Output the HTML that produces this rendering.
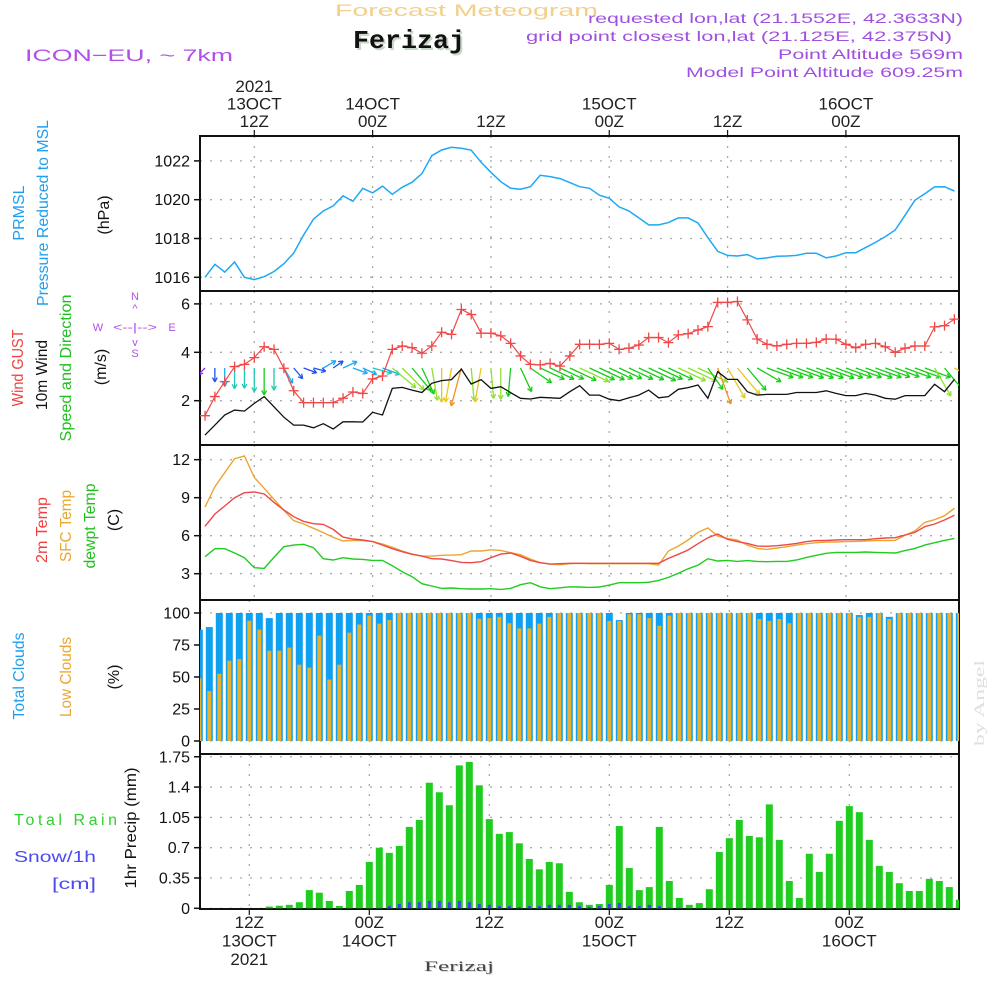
<!DOCTYPE html>
<html><head><meta charset="utf-8"><style>
html,body{margin:0;padding:0;background:#fff;}
svg{display:block;font-family:"Liberation Sans",sans-serif;}
</style></head>
<body>
<svg id="chart" width="1000" height="1000" viewBox="0 0 1000 1000" xmlns="http://www.w3.org/2000/svg">
<defs>
<clipPath id="cTop"><rect x="200" y="136" width="759" height="155"/></clipPath>
<clipPath id="cWind"><rect x="200" y="291" width="759" height="154"/></clipPath>
<clipPath id="cTemp"><rect x="200" y="445" width="759" height="155"/></clipPath>
<clipPath id="cCloud"><rect x="200" y="600" width="759" height="142"/></clipPath>
<clipPath id="cPrec"><rect x="200" y="754" width="759" height="155"/></clipPath>
</defs>
<text x="335" y="16" font-size="17" fill="#f2d08a" textLength="263" lengthAdjust="spacingAndGlyphs">Forecast Meteogram</text>
<text x="355" y="50" font-family="Liberation Mono,monospace" font-weight="bold" font-size="26" fill="#c8d8c8" textLength="112" lengthAdjust="spacingAndGlyphs">Ferizaj</text>
<text x="353" y="48" font-family="Liberation Mono,monospace" font-weight="bold" font-size="26" fill="#111" textLength="112" lengthAdjust="spacingAndGlyphs">Ferizaj</text>
<text x="25" y="61" font-size="17" fill="#b050e8" textLength="208" lengthAdjust="spacingAndGlyphs">ICON−EU, ~ 7km</text>
<g font-size="14" fill="#a050e0" text-anchor="end">
<text x="963" y="23" textLength="375" lengthAdjust="spacingAndGlyphs">requested lon,lat (21.1552E, 42.3633N)</text>
<text x="952" y="41" textLength="426" lengthAdjust="spacingAndGlyphs">grid point closest lon,lat (21.125E, 42.375N)</text>
<text x="963" y="59" textLength="185" lengthAdjust="spacingAndGlyphs">Point Altitude 569m</text>
<text x="963" y="77" textLength="277" lengthAdjust="spacingAndGlyphs">Model Point Altitude 609.25m</text>
</g>
<g id="axes"></g>
<g id="marks"></g>
<g font-size="16">
<text transform="translate(24,213) rotate(-90)" text-anchor="middle" fill="#1ea0f0">PRMSL</text>
<text transform="translate(48,213) rotate(-90)" text-anchor="middle" fill="#1ea0f0" textLength="186" lengthAdjust="spacingAndGlyphs">Pressure Reduced to MSL</text>
<text transform="translate(109,215) rotate(-90)" text-anchor="middle" fill="#111">(hPa)</text>
<text transform="translate(23,368) rotate(-90)" text-anchor="middle" fill="#f04040" textLength="77" lengthAdjust="spacingAndGlyphs">Wind GUST</text>
<text transform="translate(47,375) rotate(-90)" text-anchor="middle" fill="#111" textLength="70" lengthAdjust="spacingAndGlyphs">10m Wind</text>
<text transform="translate(71,368) rotate(-90)" text-anchor="middle" fill="#20c020" textLength="147" lengthAdjust="spacingAndGlyphs">Speed and Direction</text>
<text transform="translate(106,367) rotate(-90)" text-anchor="middle" fill="#111">(m/s)</text>
<text transform="translate(47,530) rotate(-90)" text-anchor="middle" fill="#f04040" textLength="66" lengthAdjust="spacingAndGlyphs">2m Temp</text>
<text transform="translate(71,526) rotate(-90)" text-anchor="middle" fill="#e8a830" textLength="72" lengthAdjust="spacingAndGlyphs">SFC Temp</text>
<text transform="translate(95,526) rotate(-90)" text-anchor="middle" fill="#20c020" textLength="85" lengthAdjust="spacingAndGlyphs">dewpt Temp</text>
<text transform="translate(119,520) rotate(-90)" text-anchor="middle" fill="#111">(C)</text>
<text transform="translate(24,676) rotate(-90)" text-anchor="middle" fill="#1ea0f0" textLength="87" lengthAdjust="spacingAndGlyphs">Total Clouds</text>
<text transform="translate(71,677) rotate(-90)" text-anchor="middle" fill="#e8a830" textLength="80" lengthAdjust="spacingAndGlyphs">Low Clouds</text>
<text transform="translate(119,677) rotate(-90)" text-anchor="middle" fill="#111">(%)</text>
<text transform="translate(136,828) rotate(-90)" text-anchor="middle" fill="#111" textLength="121" lengthAdjust="spacingAndGlyphs">1hr Precip (mm)</text>
<text x="14" y="825" fill="#30d030" textLength="103" lengthAdjust="spacing">Total   Rain</text>
<text x="14" y="862" fill="#4a4af0" textLength="82" lengthAdjust="spacingAndGlyphs">Snow/1h</text>
<text x="52" y="889" fill="#4a4af0" textLength="44" lengthAdjust="spacingAndGlyphs">[cm]</text>
</g>
<g font-size="11" fill="#b050e8">
<text x="135" y="300" text-anchor="middle">N</text>
<text x="135" y="357" text-anchor="middle">S</text>
<text x="98" y="331" text-anchor="middle">W</text>
<text x="172" y="331" text-anchor="middle">E</text>
<text x="135" y="331" text-anchor="middle" textLength="44" lengthAdjust="spacingAndGlyphs">&lt;--|--&gt;</text>
<text x="135" y="312" text-anchor="middle">^</text>
<text x="135" y="346" text-anchor="middle">v</text>
</g>
<text x="425" y="972" font-family="Liberation Serif,serif" font-size="15" fill="#d0d8d0" textLength="70" lengthAdjust="spacingAndGlyphs">Ferizaj</text>
<text x="424" y="971" font-family="Liberation Serif,serif" font-size="15" fill="#444" textLength="70" lengthAdjust="spacingAndGlyphs">Ferizaj</text>
<text transform="translate(984,703) rotate(-90)" text-anchor="middle" font-family="Liberation Serif,serif" font-size="15" fill="#dde0dd" textLength="86" lengthAdjust="spacingAndGlyphs">by Angel</text>
</svg>
<script>
var hourStart = 7, hourEnd = 83;
var pressure = [1016.0,1016.67,1016.27,1016.79,1016.0,1015.88,1016.03,1016.3,1016.7,1017.25,1018.18,1019.0,1019.42,1019.68,1020.2,1019.92,1020.59,1020.35,1020.7,1020.28,1020.64,1020.9,1021.34,1022.27,1022.56,1022.7,1022.65,1022.55,1021.93,1021.41,1020.93,1020.59,1020.54,1020.67,1021.26,1021.19,1021.09,1020.88,1020.67,1020.59,1020.23,1020.07,1019.63,1019.42,1019.06,1018.7,1018.7,1018.82,1019.06,1019.06,1018.8,1018.04,1017.34,1017.13,1017.1,1017.17,1016.95,1017.0,1017.08,1017.1,1017.13,1017.24,1017.24,1017.0,1017.1,1017.27,1017.27,1017.53,1017.8,1018.1,1018.44,1019.2,1019.97,1020.31,1020.66,1020.67,1020.45];
var gust = [1.38,2.17,2.79,3.41,3.5,3.78,4.23,4.12,3.34,2.41,1.92,1.92,1.92,1.92,2.1,2.36,2.3,2.9,3.02,4.12,4.26,4.19,3.96,4.26,4.83,4.74,5.77,5.56,4.79,4.79,4.68,4.37,3.85,3.5,3.48,3.54,3.43,3.85,4.33,4.33,4.33,4.37,4.12,4.17,4.3,4.61,4.61,4.4,4.72,4.77,4.92,5.06,6.06,6.06,6.1,5.34,4.55,4.33,4.26,4.33,4.37,4.37,4.41,4.55,4.54,4.33,4.19,4.33,4.37,4.23,4.0,4.17,4.26,4.26,5.05,5.1,5.37];
var wind10 = [0.58,0.99,1.41,1.61,1.57,1.89,2.17,1.75,1.32,0.99,0.99,0.88,1.05,0.83,1.13,1.13,1.12,1.52,1.41,2.51,2.55,2.44,2.34,2.72,2.83,2.87,3.3,2.69,2.87,2.51,2.58,2.33,2.1,2.07,2.14,2.12,2.1,2.37,2.62,2.23,2.23,2.06,2.0,2.12,2.23,2.44,2.12,2.17,2.47,2.54,2.65,2.1,3.2,2.88,2.88,2.37,2.23,2.26,2.26,2.26,2.34,2.34,2.34,2.41,2.3,2.21,2.21,2.3,2.23,2.1,2.06,2.21,2.21,2.21,2.68,2.37,2.88];
var windDir = [135,90,90,90,90,90,90,90,60,50,20,15,-30,-35,-25,20,25,15,20,40,45,50,65,80,90,100,105,85,100,85,90,95,65,35,25,25,25,25,25,25,25,25,25,25,25,25,25,25,25,25,25,55,70,60,50,50,30,20,20,20,20,20,20,20,20,20,20,20,20,20,20,20,20,20,60,50,30];
var temp2m = [6.74,7.71,8.34,9.0,9.39,9.45,9.29,8.63,8.03,7.5,7.13,6.95,6.89,6.5,5.89,5.74,5.66,5.53,5.26,4.97,4.74,4.53,4.39,4.18,4.16,4.03,3.89,3.87,3.95,4.26,4.55,4.63,4.37,4.05,3.87,3.76,3.79,3.82,3.82,3.82,3.82,3.82,3.82,3.82,3.82,3.82,3.82,4.21,4.53,4.87,5.37,5.84,6.13,5.71,5.53,5.39,5.18,5.16,5.21,5.29,5.39,5.53,5.61,5.63,5.66,5.68,5.68,5.68,5.76,5.82,5.84,6.05,6.26,6.71,6.92,7.24,7.61];
var sfcTemp = [8.26,9.87,10.97,12.08,12.29,10.6,9.74,8.87,8.0,7.18,6.92,6.58,6.24,5.87,5.58,5.63,5.61,5.53,5.34,5.08,4.79,4.55,4.39,4.39,4.45,4.47,4.5,4.79,4.79,4.89,4.84,4.66,4.5,4.16,3.87,3.76,3.71,3.79,3.82,3.79,3.79,3.79,3.79,3.79,3.79,3.79,3.68,4.79,5.18,5.66,6.26,6.61,5.97,5.79,5.66,5.26,5.0,4.92,5.03,5.13,5.26,5.37,5.45,5.5,5.5,5.53,5.55,5.58,5.61,5.61,5.63,6.05,6.37,7.05,7.26,7.58,8.16];
var dewpt = [4.34,4.97,4.97,4.63,4.26,3.47,3.42,4.29,5.13,5.26,5.32,5.05,4.18,4.08,4.26,4.16,4.13,4.05,4.05,3.63,3.16,2.76,2.21,2.03,1.84,1.87,1.82,1.79,1.79,1.82,1.76,1.84,2.13,2.29,1.97,1.82,1.89,1.97,1.95,1.92,1.95,2.1,2.29,2.29,2.29,2.32,2.47,2.71,3.03,3.39,3.68,4.18,4.0,4.05,3.97,4.03,3.97,3.95,3.97,3.97,4.08,4.29,4.45,4.61,4.68,4.68,4.68,4.71,4.68,4.66,4.63,4.82,5.0,5.26,5.45,5.63,5.79];
var totalClouds = [87,89,100,100,100,100,100,96,100,100,100,100,100,100,100,100,100,100,100,100,100,100,100,100,100,100,100,100,100,100,100,100,100,100,100,100,100,100,100,100,100,100,94.5,100,100,100,100,100,100,100,100,100,100,100,100,100,100,100,100,100,100,100,100,100,100,100,98.4,100,100,97,100,100,100,100,100,100,100];
var lowClouds = [49,39,52.5,62.7,64,94,87,70.5,70.5,73,59.6,57.3,82.3,48,59.6,84.6,91,98,91.7,94.5,100,100,100,100,100,100,100,100,95.5,96,97,92,88,88,91.7,97,100,100,100,100,100,93.8,93.8,99,99,96,90,98,100,100,100,100,100,100,100,100,95.3,93.8,95.3,92,100,100,100,100,100,100,97,97,100,95.3,100,100,100,100,100,100,100];
var precip = [0,0,0,0,0,0,0,0.02,0.03,0.04,0.07,0.21,0.18,0.085,0.027,0.2,0.27,0.535,0.70,0.64,0.72,0.94,1.02,1.45,1.34,1.19,1.65,1.69,1.42,1.03,0.86,0.88,0.75,0.57,0.45,0.535,0.52,0.19,0.07,0.04,0.05,0.27,0.95,0.465,0.21,0.245,0.94,0.315,0.12,0.04,0.06,0.22,0.65,0.81,1.02,0.835,0.82,1.2,0.79,0.315,0.12,0.63,0.42,0.63,1.01,1.18,1.11,0.79,0.49,0.42,0.29,0.2,0.2,0.34,0.315,0.245,0.1];
var snow = [0,0,0,0,0,0,0,0,0,0,0,0,0,0,0,0,0,0,0.005,0.027,0.05,0.07,0.07,0.085,0.085,0.07,0.085,0.07,0.05,0.04,0.027,0.027,0.015,0.027,0.027,0.04,0.04,0.04,0.027,0.015,0.027,0.05,0.06,0.027,0.027,0.04,0.027,0.008,0.008,0,0,0,0,0,0,0,0,0,0,0,0,0,0,0,0,0,0,0,0,0,0,0,0,0,0,0,0];
var pressTicks = [1016,1018,1020,1022];
var windTicks = [2,4,6];
var tempTicks = [3,6,9,12];
var cloudTicks = [0,25,50,75,100];
var precipTicks = [0,0.35,0.7,1.05,1.4,1.75];
var precipTickLabels = ["0","0.35","0.7","1.05","1.4","1.75"];
var timeHours = [12,24,36,48,60,72];
var topTimeLabels = [["2021","13OCT","12Z"],["14OCT","00Z"],["12Z"],["15OCT","00Z"],["12Z"],["16OCT","00Z"]];
var bottomTimeLabels = [["12Z","13OCT","2021"],["00Z","14OCT"],["12Z"],["00Z","15OCT"],["12Z"],["00Z","16OCT"]];

function xT(h){return 254.3+9.86*(h-12);}
function xB(h){return 249.3+10*(h-12);}
function yP(v){return 277.3-(v-1016)*19.4;}
function yW(v){return 400.7-(v-2)*24.2;}
function yT(v){return 573.7-(v-3)*12.67;}
function yC(v){return 741-v*1.28;}
function yR(v){return 908.3-v*86.6;}

var NS="http://www.w3.org/2000/svg";
var axes=document.getElementById('axes'), marks=document.getElementById('marks');
function el(tag,attrs,parent){var e=document.createElementNS(NS,tag);for(var k in attrs)e.setAttribute(k,attrs[k]);(parent||marks).appendChild(e);return e;}

var panels=[
 {name:'pressure',y0:136,y1:291,ticks:pressTicks,labels:null,ys:yP,xs:xT},
 {name:'wind',y0:291,y1:445,ticks:windTicks,labels:null,ys:yW,xs:xT},
 {name:'temperature',y0:445,y1:600,ticks:tempTicks,labels:null,ys:yT,xs:xT},
 {name:'clouds',y0:600,y1:742,ticks:cloudTicks,labels:null,ys:yC,xs:xB},
 {name:'precip',y0:754,y1:909,ticks:precipTicks,labels:precipTickLabels,ys:yR,xs:xB}
];
panels.forEach(function(p){
  var g=el('g',{},axes);
  
  
  p.ticks.forEach(function(t,i){
    var y=p.ys(t);
    var gl=el('line',{x1:200,x2:959,y1:y,y2:y,stroke:'#aaa','stroke-width':1.3,'stroke-dasharray':'2,8'},g);
    
    
    el('line',{x1:194,x2:200,y1:y,y2:y,stroke:'#111','stroke-width':1.5},g);
    var tx=el('text',{x:190,y:y+5.5,'text-anchor':'end','font-size':16,fill:'#111'},g);
    
    
    tx.textContent=p.labels?p.labels[i]:String(t);
  });
  timeHours.forEach(function(h){
    var x=p.xs(h);
    var vl=el('line',{x1:x,x2:x,y1:p.y0,y2:p.y1,stroke:'#aaa','stroke-width':1.3,'stroke-dasharray':'2,8'},g);
    
    
  });
});
[[136,291],[291,445],[445,600],[754,909]].forEach(function(r){
  var f=el('rect',{x:200,y:r[0],width:759,height:r[1]-r[0],fill:'none',stroke:'#111','stroke-width':2},axes);
  
  
});
el('line',{x1:200,x2:200,y1:600,y2:754,stroke:'#111','stroke-width':2},axes);
el('line',{x1:959,x2:959,y1:600,y2:754,stroke:'#111','stroke-width':2},axes);
timeHours.forEach(function(h,i){
  var x=xT(h);
  el('line',{x1:x,x2:x,y1:130,y2:136,stroke:'#111','stroke-width':1.2},axes);
  var lines=topTimeLabels[i];
  lines.forEach(function(s,j){
    var t=el('text',{x:x,y:127-(lines.length-1-j)*17.5,'text-anchor':'middle','font-size':17,fill:'#222'},axes);
    
    
    t.textContent=s;
  });
  var xb=xB(h);
  el('line',{x1:xb,x2:xb,y1:909,y2:915,stroke:'#111','stroke-width':1.2},axes);
  bottomTimeLabels[i].forEach(function(s,j){
    var t=el('text',{x:xb,y:928+j*18.5,'text-anchor':'middle','font-size':17,fill:'#222'},axes);
    
    
    t.textContent=s;
  });
});

function hourAt(i){return hourStart+i;}
function linePath(arr,xs,ys){return arr.map(function(v,i){return (i?'L':'M')+xs(hourAt(i)).toFixed(1)+','+ys(v).toFixed(1);}).join('');}

var gp=el('g',{'clip-path':'url(#cTop)'});
var pl=el('path',{d:linePath(pressure,xT,yP),fill:'none',stroke:'#1ea8f5','stroke-width':1.5},gp);



var gw=el('g',{'clip-path':'url(#cWind)'});
function windColor(s){
  if(s<0.7)return '#9030e0';
  if(s<1.0)return '#2050f0';
  if(s<1.45)return '#20a8f0';
  if(s<1.9)return '#20c8b0';
  if(s<2.45)return '#18cc18';
  if(s<2.75)return '#90e030';
  if(s<3.1)return '#e8c820';
  return '#f09020';
}
windDir.forEach(function(d,i){
  var h=hourAt(i),s=wind10[i];
  var x0=xT(h),y0=368,L=3+11*s,a=d*Math.PI/180;
  var x1=x0+L*Math.cos(a),y1=y0+L*Math.sin(a);
  var c=windColor(s);
  var ag=el('g',{stroke:c,'stroke-width':1.3,fill:'none'},gw);
  
  
  el('line',{x1:x0,y1:y0,x2:x1,y2:y1},ag);
  var hl=5;
  [a+Math.PI-0.5,a+Math.PI+0.5].forEach(function(b){
    el('line',{x1:x1,y1:y1,x2:x1+hl*Math.cos(b),y2:y1+hl*Math.sin(b)},ag);
  });
});
var wl=el('path',{d:linePath(wind10,xT,yW),fill:'none',stroke:'#111','stroke-width':1.3},gw);


var gl2=el('path',{d:linePath(gust,xT,yW),fill:'none',stroke:'#f04848','stroke-width':1.2},gw);


gust.forEach(function(v,i){
  var x=xT(hourAt(i)),y=yW(v);
  var m=el('path',{d:'M'+(x-5)+','+y+'H'+(x+5)+'M'+x+','+(y-5)+'V'+(y+5),stroke:'#f04848','stroke-width':1.3},gw);
  
  
});

var gt=el('g',{'clip-path':'url(#cTemp)'});
[[dewpt,'#20cc20','dewpoint-line'],[sfcTemp,'#e8a830','sfc-temp-line'],[temp2m,'#f04848','temp-2m-line']].forEach(function(s){
  var p=el('path',{d:linePath(s[0],xT,yT),fill:'none',stroke:s[1],'stroke-width':1.4},gt);
  
  
});

var gc=el('g',{'clip-path':'url(#cCloud)'});
totalClouds.forEach(function(v,i){
  var x=xB(hourAt(i));
  var b=el('rect',{x:x-3.5,y:yC(v),width:7,height:741-yC(v),fill:'#10a0f0'},gc);
  
  
  var lv=lowClouds[i];
  var o=el('rect',{x:x-2,y:yC(lv),width:4,height:741-yC(lv),fill:'#e8b030'},gc);
  
  
});

var gr=el('g',{'clip-path':'url(#cPrec)'});
precip.forEach(function(v,i){
  if(v<=0)return;
  var x=xB(hourAt(i));
  var b=el('rect',{x:x-3.5,y:yR(v),width:7,height:908.3-yR(v),fill:'#20cc20'},gr);
  
  
});
snow.forEach(function(v,i){
  if(v<=0)return;
  var x=xB(hourAt(i));
  var b=el('rect',{x:x-1.5,y:yR(v),width:3,height:908.3-yR(v),fill:'#4040f0'},gr);
  
  
});
</script>
</body></html>
